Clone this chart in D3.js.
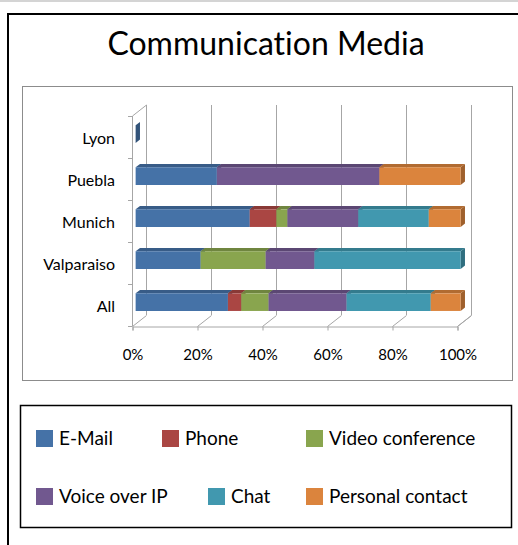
<!DOCTYPE html>
<html>
<head>
<meta charset="utf-8">
<script src="https://cdn.jsdelivr.net/npm/d3@7"></script>
<style>
  body { margin: 0; background: #fff; }
  text { font-family: Lato, "Open Sans", sans-serif; fill: #000; font-variant-ligatures: none; }
</style>
</head>
<body>
<div id="chart"></div>
<script>
// categories from top to bottom of the chart
const categories = ["Lyon", "Puebla", "Munich", "Valparaiso", "All"];

// share (%) of each medium, same order as categories
const email    = [0, 25, 35.1, 20, 28.4];
const phone    = [0, 0, 8.2, 0, 4.1];
const video    = [0, 0, 3.4, 20, 8.4];
const voip     = [0, 50, 21.8, 15, 24.0];
const chat     = [0, 0, 21.7, 45, 25.9];
const personal = [0, 25, 9.8, 0, 9.2];

const seriesNames = ["E-Mail", "Phone", "Video conference", "Voice over IP", "Chat", "Personal contact"];
const seriesValues = [email, phone, video, voip, chat, personal];
const colors = ["#4572A7", "#AA4643", "#89A54E", "#71588F", "#4198AF", "#DB843D"];

const svgWidth = 518;
const svgHeight = 545;

const svg = d3.select("#chart")
    .append("svg")
    .attr("width", svgWidth)
    .attr("height", svgHeight);

// thin grey line at the very top and the outer black frame
svg.append("rect")
    .attr("x", 0).attr("y", 0)
    .attr("width", svgWidth).attr("height", 2)
    .attr("fill", "#d4d4d4");

svg.append("rect")
    .attr("x", 8).attr("y", 14)
    .attr("width", 530).attr("height", 560)
    .attr("fill", "none")
    .attr("stroke", "#000")
    .attr("stroke-width", 2);

// title
svg.append("text")
    .attr("x", 266)
    .attr("y", 55)
    .attr("text-anchor", "middle")
    .style("font-size", "32px")
    .text("Communication Media");

// plot area frame
svg.append("rect")
    .attr("x", 22.5).attr("y", 86.5)
    .attr("width", 490).attr("height", 294)
    .attr("fill", "none")
    .attr("stroke", "#8c8c8c");

// 3D geometry
const x0 = 132;            // front 0% position
const depthX = 14;          // back wall offset
const depthY = -11;
const yTop = 116, yBottom = 326;

const xScale = d3.scaleLinear().domain([0, 1]).range([x0, x0 + 325]);
const yScale = d3.scaleBand().domain(categories).range([yTop, yBottom]);

const chartGroup = svg.append("g");
const gridColor = "#a6a6a6";

// back wall gridlines and floor diagonals
const ticks = xScale.ticks(5);
ticks.forEach(function (t) {
    const fx = xScale(t);
    chartGroup.append("line")
        .attr("x1", fx + depthX + 0.5).attr("y1", yTop + depthY)
        .attr("x2", fx + depthX + 0.5).attr("y2", yBottom + depthY)
        .attr("stroke", gridColor);
    chartGroup.append("line")
        .attr("x1", fx + 0.5).attr("y1", yBottom + 0.5)
        .attr("x2", fx + depthX + 0.5).attr("y2", yBottom + depthY + 0.5)
        .attr("stroke", gridColor);
});

// left wall
chartGroup.append("line")
    .attr("x1", x0 + 0.5).attr("y1", yTop)
    .attr("x2", x0 + depthX + 0.5).attr("y2", yTop + depthY)
    .attr("stroke", gridColor);
chartGroup.append("line")
    .attr("x1", x0 + 0.5).attr("y1", yTop)
    .attr("x2", x0 + 0.5).attr("y2", yBottom)
    .attr("stroke", gridColor);

// category tick marks on the left wall
d3.range(categories.length + 1).forEach(function (i) {
    const ty = yTop + i * yScale.step();
    chartGroup.append("line")
        .attr("x1", x0 - 4).attr("y1", Math.round(ty) + 0.5)
        .attr("x2", x0 + 0.5).attr("y2", Math.round(ty) + 0.5)
        .attr("stroke", gridColor);
});

// category labels
const leftAxis = d3.axisLeft(yScale).tickSize(0).tickPadding(17);
chartGroup.append("g")
    .attr("transform", `translate(${x0}, 2)`)
    .call(leftAxis)
    .call(g => g.select(".domain").remove())
    .selectAll("text")
    .style("font-size", "16px")
    .style("font-family", "Lato, sans-serif");

// bottom axis with percentage labels
const bottomAxis = d3.axisBottom(xScale)
    .ticks(5)
    .tickFormat(d3.format(".0%"))
    .tickSize(4)
    .tickPadding(19);
const xAxisG = chartGroup.append("g")
    .attr("transform", `translate(0.5, ${yBottom + 0.5})`)
    .call(bottomAxis);
xAxisG.select(".domain").attr("stroke", gridColor);
xAxisG.selectAll(".tick line").attr("stroke", gridColor);
xAxisG.selectAll("text")
    .style("font-size", "15px")
    .style("font-family", "Lato, sans-serif");

// stacked data (100% stacked)
const rows = categories.map(function (c, i) {
    const row = { category: c };
    seriesNames.forEach(function (s, k) { row[s] = seriesValues[k][i]; });
    return row;
});
const stacked = d3.stack()
    .keys(seriesNames)
    .offset(d3.stackOffsetExpand)(rows);

// bar depth range and thickness
const d1 = 0.26, d2 = 0.57;
const barH = yScale.step() * 0.42;

function pt(xv, y, d) {
    return [xScale(xv) + d * depthX, y + d * depthY];
}

const barsGroup = chartGroup.append("g");
categories.forEach(function (c, i) {
    const total = seriesValues.reduce((s, arr) => s + arr[i], 0);
    const yc = yScale(c) + yScale.step() / 2;
    const top = yc - barH / 2, bot = yc + barH / 2;
    stacked.forEach(function (layer, k) {
        const a = layer[i][0], b = layer[i][1];
        if (!(b - a > 0) && !(total === 0 && k === 0)) return;
        const col = d3.color(colors[k]);
        // right side face
        barsGroup.append("path")
            .attr("d", d3.line()([pt(b, top, d1), pt(b, top, d2), pt(b, bot, d2), pt(b, bot, d1)]))
            .attr("fill", col.darker(0.9));
        if (b - a > 0) {
            // top face
            barsGroup.append("path")
                .attr("d", d3.line()([pt(a, top, d1), pt(a, top, d2), pt(b, top, d2), pt(b, top, d1)]))
                .attr("fill", col.darker(0.6));
            // front face
            barsGroup.append("path")
                .attr("d", d3.line()([pt(a, top, d1), pt(b, top, d1), pt(b, bot, d1), pt(a, bot, d1)]))
                .attr("fill", col);
        }
    });
});

// right wall edge drawn last
chartGroup.append("line")
    .attr("x1", xScale(1) + 0.5).attr("y1", yBottom + 0.5)
    .attr("x2", xScale(1) + depthX + 0.5).attr("y2", yBottom + depthY + 0.5)
    .attr("stroke", gridColor);

// legend
svg.append("rect")
    .attr("x", 20.5).attr("y", 405.5)
    .attr("width", 491).attr("height", 122)
    .attr("fill", "none")
    .attr("stroke", "#000")
    .attr("stroke-width", 1.5);

const legendPos = [[36, 430], [162, 430], [306, 430], [36, 488], [208, 488], [306, 488]];
const legend = svg.append("g");
seriesNames.forEach(function (s, k) {
    const g = legend.append("g")
        .attr("transform", `translate(${legendPos[k][0]}, ${legendPos[k][1]})`);
    g.append("rect")
        .attr("width", 17).attr("height", 17)
        .attr("fill", colors[k]);
    g.append("text")
        .attr("x", 23).attr("y", 15)
        .style("font-size", "19px")
        .text(s);
});
</script>
</body>
</html>
